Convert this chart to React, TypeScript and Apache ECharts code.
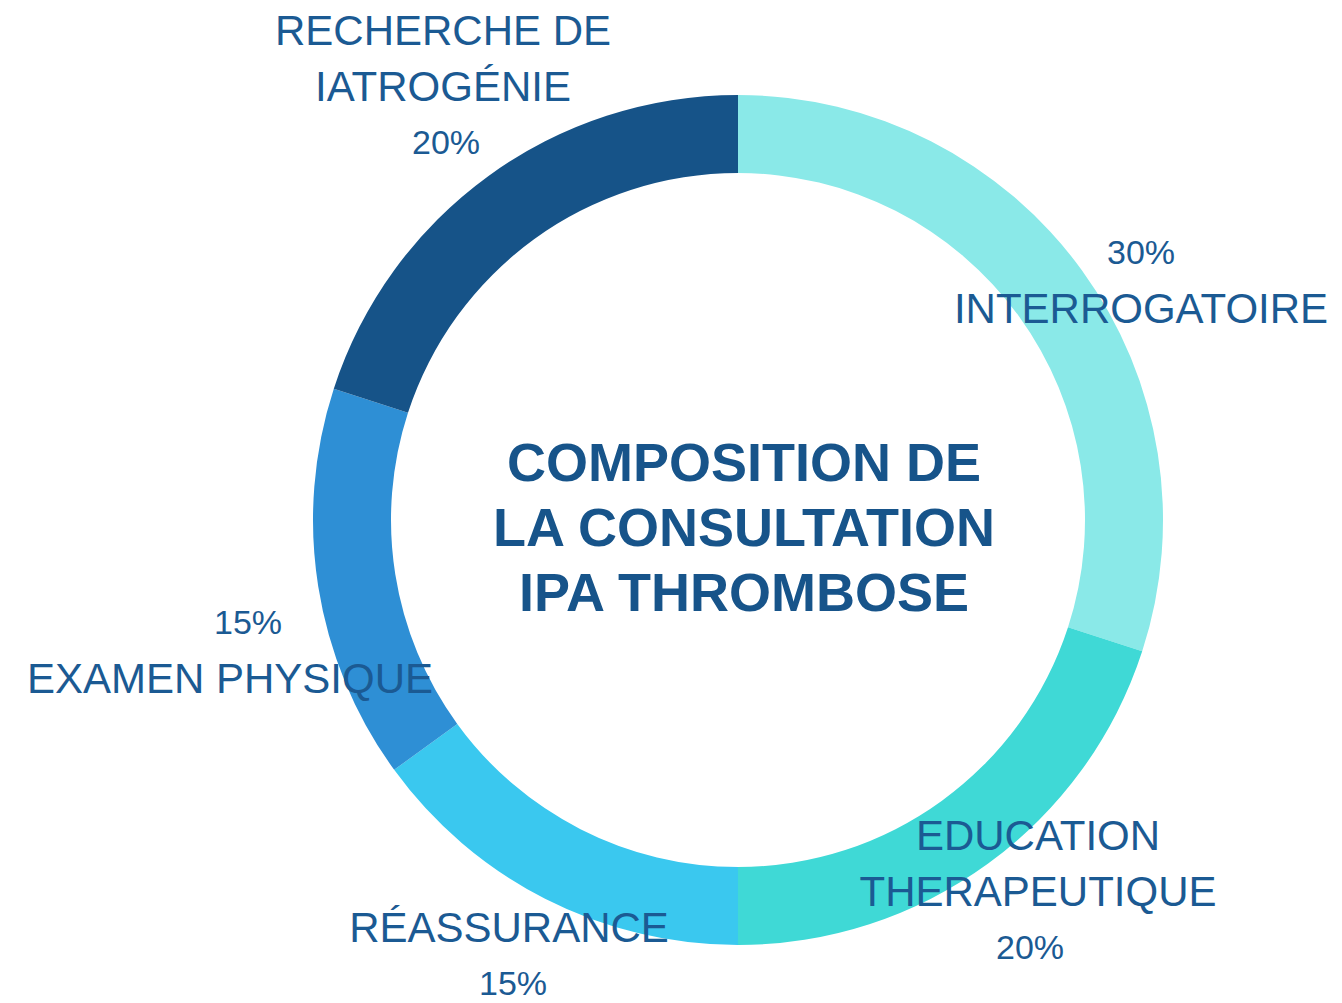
import React, { useEffect, useRef } from "react";
import * as echarts from "echarts";

const categories = [
  "INTERROGATOIRE",
  "EDUCATION\nTHERAPEUTIQUE",
  "RÉASSURANCE",
  "EXAMEN PHYSIQUE",
  "RECHERCHE DE\nIATROGÉNIE",
];
const values = [30, 20, 15, 15, 20];
const percentFirst = [true, false, false, true, false];
const colors = ["#8AE9E8", "#3FD9D6", "#3AC8EF", "#2E8FD5", "#165388"];
const titleLines = ["COMPOSITION DE", "LA CONSULTATION", "IPA THROMBOSE"];

// label anchor positions (center x, top y)
const labelPos = [
  [1141, 224],
  [1038, 807],
  [509, 899],
  [230, 594],
  [443, 2],
];
// horizontal shift of the percent line relative to the name lines
const pctShift = [0, -8, 4, 18, 3];

const TEXT = "#1B5A93";
const FONT = "'Liberation Sans', Arial, sans-serif";

export default function App() {
  const ref = useRef<HTMLDivElement>(null);
  useEffect(() => {
    document.body.style.margin = "0";
    const chart = echarts.init(ref.current!, null, { renderer: "svg" });
    const rich: any = {
      n: { fontSize: 42, lineHeight: 56, color: TEXT, fontFamily: FONT },
    };
    pctShift.forEach((s, i) => {
      rich["p" + i] = {
        fontSize: 34,
        lineHeight: 56,
        color: TEXT,
        fontFamily: FONT,
        padding: s >= 0 ? [0, 0, 0, 2 * s] : [0, -2 * s, 0, 0],
      };
    });
    chart.setOption({
      animation: false,
      backgroundColor: "#ffffff",
      graphic: [
        {
          type: "text",
          x: 744,
          y: 527,
          style: {
            text: titleLines.join("\n"),
            align: "center",
            verticalAlign: "middle",
            fontSize: 54,
            fontWeight: "bold",
            fontFamily: FONT,
            lineHeight: 65,
            fill: "#17548A",
          },
        },
      ],
      series: [
        {
          type: "pie",
          center: [738, 520],
          radius: [347, 425],
          startAngle: 90,
          clockwise: true,
          silent: true,
          labelLine: { show: false },
          data: categories.map((c, i) => ({
            name: c,
            value: values[i],
            itemStyle: { color: colors[i] },
          })),
          label: {
            show: true,
            position: "outside",
            overflow: "none",
            color: TEXT,
            fontFamily: FONT,
            formatter: (p: any) => {
              const name = p.name
                .split("\n")
                .map((l: string) => `{n|${l}}`)
                .join("\n");
              const pct = `{p${p.dataIndex}|${p.value}%}`;
              return percentFirst[p.dataIndex] ? `${pct}\n${name}` : `${name}\n${pct}`;
            },
            rich,
          },
          labelLayout: (params: any) => {
            const pos = labelPos[params.dataIndex];
            return {
              x: pos[0],
              y: pos[1],
              align: "center",
              verticalAlign: "top",
            };
          },
        },
      ],
    });
    return () => chart.dispose();
  }, []);
  return <div ref={ref} style={{ width: 1342, height: 1003 }} />;
}
